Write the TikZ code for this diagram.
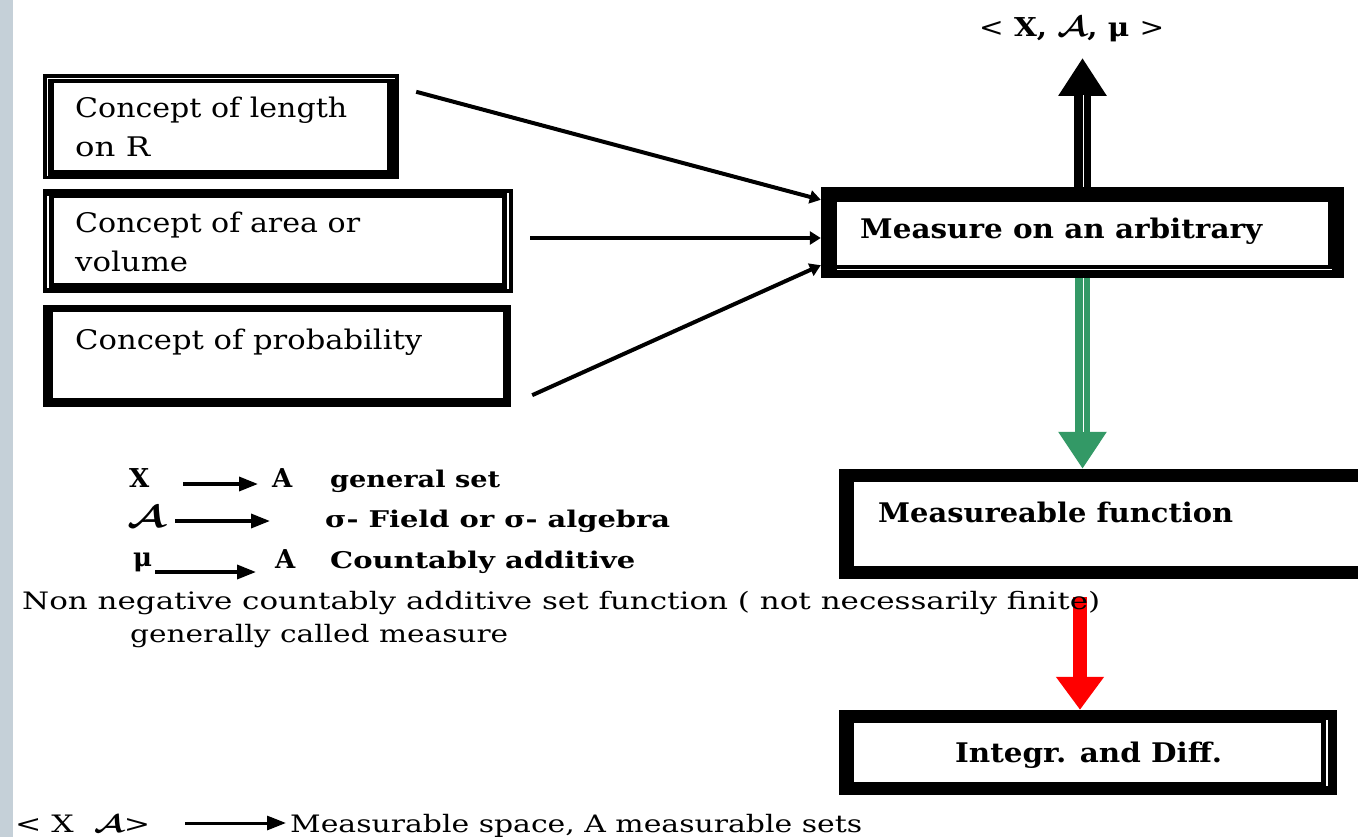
\documentclass[tikz,border=0pt]{standalone}
\usepackage{fontspec}
\usepackage{amsmath}
\usepackage{graphicx}
\setmainfont{DejaVu Serif}
\usetikzlibrary{arrows.meta}
\definecolor{stripc}{HTML}{C5D0D8}
\definecolor{mgreen}{HTML}{339966}
\newlength\fitwd
\newcommand\fitto[2]{\settowidth\fitwd{#2}\pgfmathsetmacro\fitr{#1/\fitwd}\scalebox{\fitr}[1]{#2}}
\newcommand\calA{\ensuremath{\boldsymbol{\mathcal{A}}}}
\newcommand\frm[5]{%
  \fill[black] (#1.north west) rectangle (#1.south east);
  \fill[white] ([xshift=#2pt,yshift=-#3pt]#1.north west) rectangle ([xshift=-#4pt,yshift=#5pt]#1.south east);}
\tikzset{
  boxtxt/.style={anchor=base west, inner sep=0pt, font=\fontsize{27}{32}\selectfont},
  boldtxt/.style={anchor=base west, inner sep=0pt, font=\fontsize{27}{32}\selectfont\bfseries},
  legb/.style={anchor=base west, inner sep=0pt, font=\fontsize{23}{28}\selectfont\bfseries},
  legbig/.style={anchor=base west, inner sep=0pt, font=\fontsize{26}{30}\selectfont\bfseries},
  legr/.style={anchor=base west, inner sep=0pt, font=\fontsize{24}{28}\selectfont},
  framebox/.style={inner sep=0pt, draw=none},
  thinarrow/.style={line width=4pt, -{Triangle[length=11pt,width=13pt]}},
  legarrow/.style={line width=3.5pt, -{Triangle[length=19pt,width=14pt]}},
  whiteline/.style={white, line width=1.6pt},
}
\begin{document}
\begin{tikzpicture}[x=1pt,y=-1pt]
\useasboundingbox (0,0) rectangle (1358,837);
\fill[white] (0,0) rectangle (1358,837);
\fill[stripc] (0,0) rectangle (13,837);

% boxes
\node[framebox, minimum width=356pt, minimum height=105pt] (b1) at (221,126.5) {};
\node[framebox, minimum width=470pt, minimum height=104pt] (b2) at (278,241) {};
\node[framebox, minimum width=468pt, minimum height=102pt] (b3) at (277,356) {};
\node[framebox, minimum width=523pt, minimum height=91pt] (ms) at (1082.5,232.5) {};
\node[framebox, minimum width=533pt, minimum height=110pt] (mf) at (1105.5,524) {};
\node[framebox, minimum width=498pt, minimum height=85pt] (ig) at (1088,752.5) {};

\frm{b1}{11}{9}{12}{9}
\draw[whiteline] (47.5,176) -- (47.5,78.5) -- (395,78.5);
\frm{b2}{11}{9}{11}{10}
\draw[whiteline] (48,196) -- (48,288);
\draw[white, line width=2.5pt] (508,193) -- (508,289);
\frm{b3}{10}{7}{8}{9}
\frm{ms}{16}{15}{16}{13}
\draw[whiteline] (837,269.5) -- (1332,269.5);
\frm{mf}{15}{13}{13}{13}
\frm{ig}{15}{13}{16}{13}
\draw[white, line width=1.8pt] (1327,720) -- (1327,786);

% box texts
\node[boxtxt] (t1a) at (75,118) {\fitto{272}{Concept of length}};
\node[boxtxt] (t1b) at (75,157) {\fitto{75}{on R}};
\node[boxtxt] (t2a) at (75,233) {\fitto{285}{Concept of area or}};
\node[boxtxt] (t2b) at (75,272) {\fitto{113}{volume}};
\node[boxtxt] (t3) at (75,349) {\fitto{347}{Concept of probability}};
\node[boldtxt] (tms) at (860,239) {\fitto{402}{Measure on an arbitrary}};
\node[boldtxt] (tmf) at (878,522) {\fitto{355}{Measureable function}};
\node[boldtxt] (tig) at (955,762) {\fitto{267}{Integr. and Diff.}};

% top label
\node[legbig] (top) at (979,37) {\fitto{185}{{\mdseries <} X, \scalebox{1.15}{\calA}, μ {\mdseries >}}};

% thin arrows into measure box
\draw[thinarrow] ([xshift=17pt,yshift=-18pt]b1.north east) -- ([yshift=-13pt]ms.north west);
\draw[thinarrow] ([xshift=17pt,yshift=3pt]b2.east) -- ([yshift=-5.5pt]ms.west);
\draw[thinarrow] ([xshift=21pt,yshift=12pt]b3.south east) -- ([yshift=13pt]ms.south west);

% big arrows
\coordinate (uptip) at (1082.5,58);
\draw[line width=17pt, -{Triangle[length=38pt,width=46pt]}] (ms.north) -- (uptip);
\draw[whiteline, line width=1.8pt] ([xshift=1pt]ms.north) -- ++(0,-92);

\draw[mgreen, line width=15pt, -{Triangle[length=37pt,width=46pt]}] (ms.south) -- (ms.south |- mf.north);
\draw[whiteline] ([xshift=1pt]ms.south) -- ++(0,154);

\coordinate (rs) at (1080,597);
\draw[red, line width=14pt, -{Triangle[length=33pt,width=46pt]}] (rs) -- (rs |- ig.north);

% legend
\node[legbig] (lx) at (129,487) {X};
\node[legbig] (la1) at (272,487) {A};
\node[legb] (lgs) at (330,487) {\fitto{170}{general set}};
\coordinate (a1s) at (183,484);
\coordinate (a1e) at (258,484);
\draw[legarrow] (a1s) -- (a1e);
\node[legbig] (lcal) at (127,527) {\fitto{38}{\scalebox{1.25}{\calA}}};
\node[legb] (lsig) at (325,527) {\fitto{345}{σ- Field or σ- algebra}};
\coordinate (a2s) at (175,521);
\coordinate (a2e) at (270,521);
\draw[legarrow] (a2s) -- (a2e);
\node[legbig] (lmu) at (133,566) {μ};
\node[legbig] (la3) at (275,568) {A};
\node[legb] (lca) at (330,568) {\fitto{305}{Countably additive}};
\coordinate (a3s) at (155,572);
\coordinate (a3e) at (256,572);
\draw[legarrow] (a3s) -- (a3e);
\node[legr] (l4) at (22,609) {\fitto{1078}{Non negative countably additive set function ( not necessarily finite)}};
\node[legr] (l5) at (130,642) {\fitto{378}{generally called measure}};

% bottom line
\node[legr] (bxa) at (15,832) {\fitto{135}{< X\ \ \calA>}};
\node[legr] (bms) at (290,832) {\fitto{572}{Measurable space, A measurable sets}};
\coordinate (a4s) at (185,823);
\coordinate (a4e) at (286,823);
\draw[legarrow, line width=3pt] (a4s) -- (a4e);
\end{tikzpicture}
\end{document}
